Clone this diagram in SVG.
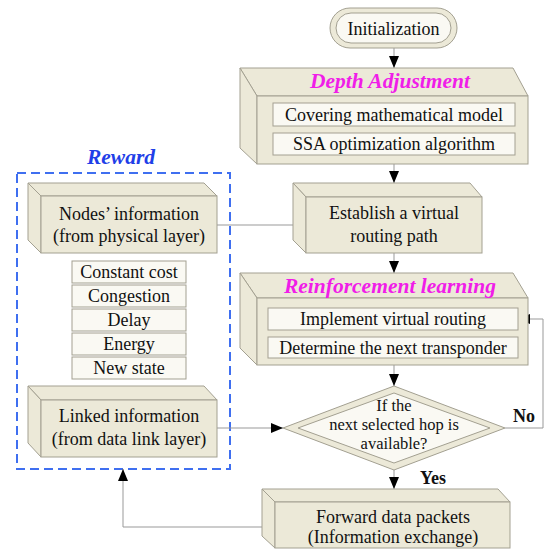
<svg xmlns="http://www.w3.org/2000/svg" width="550" height="557" viewBox="0 0 550 557">
<defs>
<style>
.face{fill:#ECE9D8;stroke:#A3A091;stroke-width:1}
.inner{fill:#FAF9F3;stroke:#A3A091;stroke-width:1}
.t{font-family:"Liberation Serif","Times New Roman",serif;font-size:18px;fill:#111;text-anchor:middle}
.d{font-size:16.5px}
.title{font-family:"Liberation Serif","Times New Roman",serif;font-size:21.5px;font-weight:bold;font-style:italic;text-anchor:middle}
.lab{font-family:"Liberation Serif","Times New Roman",serif;font-size:18px;font-weight:bold;fill:#111}
.conn{fill:none;stroke:#999;stroke-width:1}
</style>
<marker id="ah" markerUnits="userSpaceOnUse" markerWidth="12" markerHeight="10" refX="12" refY="5" orient="auto">
<path d="M0,0 L12,5 L0,10 z" fill="#000"/>
</marker>
</defs>
<rect width="550" height="557" fill="#fff"/>

<g id="reward">
<rect x="17" y="173" width="213" height="296" fill="none" stroke="#3F6FF0" stroke-width="2" stroke-dasharray="9 5"/>
<text class="title" x="121" y="164" fill="#1F3FE8">Reward</text>
</g>

<g id="connectors">
<path class="conn" d="M394,48 V68" marker-end="url(#ah)"/>
<path class="conn" d="M394,164 V183" marker-end="url(#ah)"/>
<path class="conn" d="M394,253 V273" marker-end="url(#ah)"/>
<path class="conn" d="M394,365 V386" marker-end="url(#ah)"/>
<path class="conn" d="M394,470 V489" marker-end="url(#ah)"/>
<path class="conn" d="M217,225 H306" marker-end="url(#ah)"/>
<path class="conn" d="M217,428 H283" marker-end="url(#ah)"/>
<path class="conn" d="M505,428 H543 V319 H518" marker-end="url(#ah)"/>
<path class="conn" d="M262,527 H123 V469" marker-end="url(#ah)"/>
<text class="lab" x="513" y="422">No</text>
<text class="lab" x="420" y="484">Yes</text>
</g>

<g id="init">
<rect x="330" y="8" width="127" height="40" rx="20" class="face"/>
<rect x="336" y="13" width="115" height="30" rx="15" class="inner"/>
<text class="t" x="393.5" y="35">Initialization</text>
</g>

<g id="depth">
<polygon class="face" points="240,68 513,68 528,96 257,96"/>
<polygon class="face" points="240,68 257,96 257,164 240,148"/>
<rect class="face" x="257" y="96" width="271" height="68"/>
<text class="title" x="390" y="88" fill="#F01DE8">Depth Adjustment</text>
<rect class="inner" x="273" y="103" width="242" height="23"/>
<text class="t" x="394" y="121">Covering mathematical model</text>
<rect class="inner" x="273" y="133" width="242" height="22"/>
<text class="t" x="394" y="150">SSA optimization algorithm</text>
</g>

<g id="establish">
<polygon class="face" points="293,183 470,183 482,197 306,197"/>
<polygon class="face" points="293,183 306,197 306,253 293,240"/>
<rect class="face" x="306" y="197" width="176" height="56"/>
<text class="t" x="394" y="219">Establish a virtual</text>
<text class="t" x="394" y="242">routing path</text>
</g>

<g id="rl">
<polygon class="face" points="240,273 513,273 528,298 257,298"/>
<polygon class="face" points="240,273 257,298 257,365 240,348"/>
<rect class="face" x="257" y="298" width="271" height="67"/>
<text class="title" x="390" y="293" fill="#F01DE8">Reinforcement learning</text>
<rect class="inner" x="268" y="308" width="250" height="22"/>
<text class="t" x="393" y="325">Implement virtual routing</text>
<rect class="inner" x="268" y="337" width="250" height="21"/>
<text class="t" x="393" y="354">Determine the next transponder</text>
</g>

<g id="decision">
<polygon class="face" points="394,386 505,428 394,470 283,428"/>
<polygon class="inner" points="394,393 490,428 394,463 298,428"/>
<text class="t d" x="394" y="411">If the</text>
<text class="t d" x="394" y="430">next selected hop is</text>
<text class="t d" x="394" y="449">available?</text>
</g>

<g id="forward">
<polygon class="face" points="262,489 498,489 510,502 275,502"/>
<polygon class="face" points="262,489 275,502 275,548 262,536"/>
<rect class="face" x="275" y="502" width="235" height="46"/>
<text class="t" x="393" y="523">Forward data packets</text>
<text class="t" x="393" y="543">(Information exchange)</text>
</g>

<g id="nodes">
<polygon class="face" points="28,183 204,183 217,196 41,196"/>
<polygon class="face" points="28,183 41,196 41,253 28,240"/>
<rect class="face" x="41" y="196" width="176" height="57"/>
<text class="t" x="129" y="220">Nodes’ information</text>
<text class="t" x="129" y="242">(from physical layer)</text>
</g>

<g id="costs">
<rect class="inner" x="72" y="261" width="114" height="22"/>
<text class="t" x="129" y="278">Constant cost</text>
<rect class="inner" x="72" y="285" width="114" height="22"/>
<text class="t" x="129" y="302">Congestion</text>
<rect class="inner" x="72" y="309" width="114" height="22"/>
<text class="t" x="129" y="326">Delay</text>
<rect class="inner" x="72" y="333" width="114" height="22"/>
<text class="t" x="129" y="350">Energy</text>
<rect class="inner" x="72" y="357" width="114" height="22"/>
<text class="t" x="129" y="374">New state</text>
</g>

<g id="linked">
<polygon class="face" points="28,386 204,386 217,400 41,400"/>
<polygon class="face" points="28,386 41,400 41,457 28,443"/>
<rect class="face" x="41" y="400" width="176" height="57"/>
<text class="t" x="129" y="422">Linked information</text>
<text class="t" x="129" y="445">(from data link layer)</text>
</g>
</svg>
